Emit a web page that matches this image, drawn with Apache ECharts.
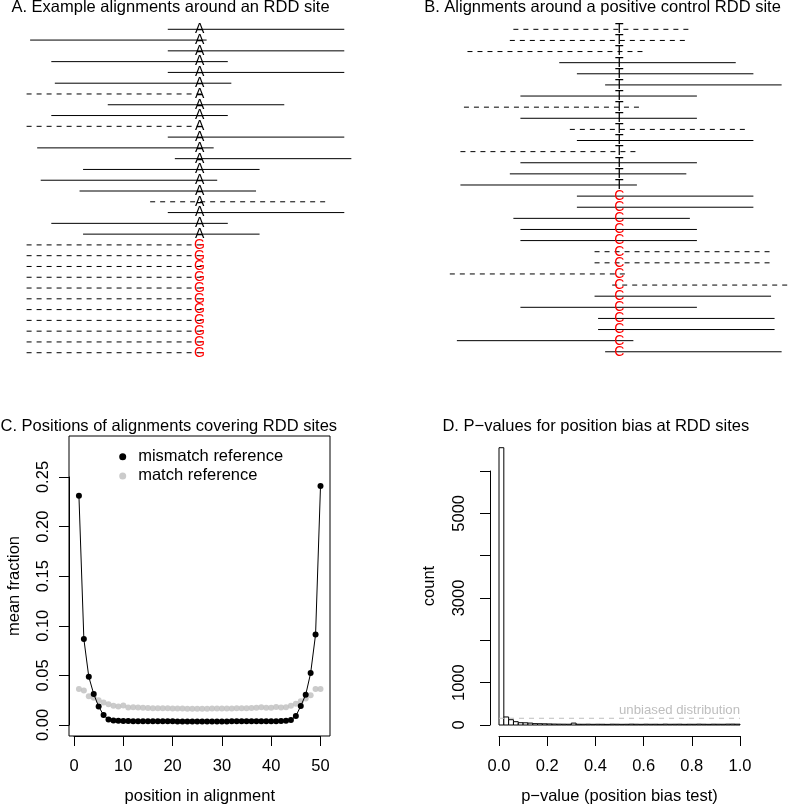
<!DOCTYPE html>
<html>
<head>
<meta charset="utf-8">
<script src="https://cdn.jsdelivr.net/npm/echarts@6/dist/echarts.min.js"></script>
<style>html,body{margin:0;padding:0;background:#fff}#c{width:789px;height:806px}</style>
</head>
<body>
<div id="c"></div>
<script>
// ---------------- data ----------------
const READ_LEN = 50;
// Panel A: read start offsets relative to the RDD site (bp), dashed flag, base at site
const readStartA = [-9,-48,-9,-42,-9,-41,-49,-26,-42,-49,-9,-46,-7,-33,-45,-34,-14,-9,-42,-33,-49,-49,-49,-49,-49,-49,-49,-49,-49,-49,-49];
const readDashedA = [0,0,0,0,0,0,1,0,0,1,0,0,0,0,0,0,1,0,0,0,1,1,1,1,1,1,1,1,1,1,1];
const baseA = ['A','A','A','A','A','A','A','A','A','A','A','A','A','A','A','A','A','A','A','A','G','G','G','G','G','G','G','G','G','G','G'];
const altBaseA = 'G';
// Panel B
const readStartB = [-30,-31,-43,-17,-12,-4,-28,-44,-28,-14,-12,-45,-28,-31,-45,-12,-12,-30,-28,-28,-7,-7,-48,-2,-7,-28,-6,-6,-46,-4];
const readDashedB = [1,1,1,0,0,0,0,1,0,1,0,1,0,0,0,0,0,0,0,0,1,1,1,1,0,0,0,0,0,0];
const baseB = ['T','T','T','T','T','T','T','T','T','T','T','T','T','T','T','C','C','C','C','C','C','C','C','C','C','C','C','C','C','C'];
const altBaseB = 'C';
// Panel C
const positions = [1,2,3,4,5,6,7,8,9,10,11,12,13,14,15,16,17,18,19,20,21,22,23,24,25,26,27,28,29,30,31,32,33,34,35,36,37,38,39,40,41,42,43,44,45,46,47,48,49,50];
const mismatchFrac = [0.2311,0.0866,0.0486,0.0312,0.0186,0.0100,0.0055,0.0045,0.0042,0.0041,
  0.0040,0.0039,0.0039,0.0038,0.0038,0.0038,0.0037,0.0037,0.0037,0.0037,
  0.0036,0.0036,0.0036,0.0036,0.0036,0.0036,0.0036,0.0036,0.0036,0.0036,
  0.0036,0.0037,0.0037,0.0037,0.0037,0.0037,0.0038,0.0038,0.0038,0.0039,
  0.0039,0.0040,0.0042,0.0050,0.0090,0.0192,0.0305,0.0523,0.0912,0.2409];
const matchFrac = [0.0362,0.0348,0.0290,0.0275,0.0250,0.0228,0.0210,0.0195,0.0187,0.0196,
  0.0177,0.0178,0.0176,0.0174,0.0172,0.0170,0.0170,0.0169,0.0168,0.0167,
  0.0166,0.0166,0.0165,0.0165,0.0165,0.0165,0.0165,0.0166,0.0166,0.0166,
  0.0167,0.0167,0.0168,0.0169,0.0170,0.0171,0.0175,0.0178,0.0175,0.0174,
  0.0182,0.0176,0.0180,0.0195,0.0215,0.0240,0.0268,0.0300,0.0362,0.0362];
// Panel D: histogram of p-values, 50 bins of width 0.02
const binWidth = 0.02;
const histCounts = [6550,190,125,78,54,52,45,32,30,28,
  25,22,20,19,18,45,18,17,19,16,
  18,17,15,19,18,16,17,20,18,16,
  19,17,18,16,20,17,18,19,16,18,
  17,20,18,16,19,18,17,20,21,19];
const yTicksD = [0,1000,2000,3000,4000,5000,6000];
const yLabelsD = ['0','1000','','3000','','5000',''];

// ---------------- styles / helpers ----------------
const FONT = '"Liberation Sans", Arial, Helvetica, sans-serif';
const FS = 16.5;
const SMALL = 13.2;
const BASE_FS = 14;
const GRAY = '#bebebe';
const RED = '#ff0000';
const DASH = [5, 5];

function readsData(starts, dashed) {
  return starts.map((s, i) => [s, s + READ_LEN, i + 1, dashed[i]]);
}
function basesData(bases) {
  return bases.map((b, i) => [0, i + 1]);
}
function renderRead(params, api) {
  const y = api.value(2);
  const p1 = api.coord([api.value(0), y]);
  const p2 = api.coord([api.value(1), y]);
  return {
    type: 'line',
    shape: {x1: p1[0], y1: p1[1], x2: p2[0], y2: p2[1]},
    style: {stroke: '#000', lineWidth: 1, lineDash: api.value(3) ? DASH : null, fill: null}
  };
}
function makeRenderBase(bases, alt) {
  return function (params, api) {
    const p = api.coord([api.value(0), api.value(1)]);
    const b = bases[params.dataIndex];
    return {
      type: 'text', x: p[0], y: p[1],
      style: {text: b, fill: b === alt ? RED : '#000', fontSize: BASE_FS, fontFamily: FONT,
              textAlign: 'center', textVerticalAlign: 'middle'}
    };
  };
}
const totalCount = histCounts.reduce((a, b) => a + b, 0);
const expectedPerBin = totalCount / histCounts.length;
const histData = histCounts.map((c, i) => [i * binWidth, (i + 1) * binWidth, c]);

const axisCommon = {
  axisLine: {show: true, onZero: false, lineStyle: {color: '#000', width: 1}},
  axisTick: {show: true, inside: false, length: 10, lineStyle: {color: '#000', width: 1}},
  splitLine: {show: false},
  nameTextStyle: {fontSize: FS, color: '#000', fontFamily: FONT},
};
function lbl(extra) {
  return Object.assign({fontSize: FS, color: '#000', fontFamily: FONT}, extra);
}
const titleStyle = {fontSize: FS, fontWeight: 'normal', color: '#000', fontFamily: FONT};

const option = {
  animation: false,
  backgroundColor: '#fff',
  title: [
    {text: 'A. Example alignments around an RDD site', left: 170.5, top: 7.5},
    {text: 'B. Alignments around a positive control RDD site', left: 602.5, top: 7.5},
    {text: 'C. Positions of alignments covering RDD sites', left: 168.8, top: 426},
    {text: 'D. P\u2212values for position bias at RDD sites', left: 595.8, top: 426}
  ].map(t => Object.assign({textAlign: 'center', textVerticalAlign: 'middle', padding: 0, textStyle: titleStyle}, t)),
  legend: {
    show: true, orient: 'vertical', left: 119.2, top: 447, padding: 0,
    itemWidth: 7, itemHeight: 7, itemGap: 0, selectedMode: false,
    textStyle: {fontSize: FS, color: '#000', fontFamily: FONT, lineHeight: 19.3, padding: [0, 0, 0, 7]},
    data: [{name: 'mismatch reference', icon: 'circle'}, {name: 'match reference', icon: 'circle'}]
  },
  grid: [
    {left: 16, top: 18.5, width: 353, height: 345, outerBoundsMode: 'none'},
    {left: 435.7, top: 18.2, width: 353, height: 344.7, outerBoundsMode: 'none'},
    {left: 74, top: 477, width: 246.5, height: 248, outerBoundsMode: 'none'},
    {left: 69, top: 436, width: 261, height: 300, show: true, borderColor: '#000', borderWidth: 1, backgroundColor: 'transparent', outerBoundsMode: 'none'},
    {left: 499, top: 471, width: 241, height: 254, outerBoundsMode: 'none'}
  ],
  xAxis: [
    {gridIndex: 0, type: 'value', min: -52, max: 48, show: false},
    {gridIndex: 1, type: 'value', min: -52, max: 48, show: false},
    Object.assign({}, axisCommon, {
      gridIndex: 2, type: 'value', min: 0, max: 50, interval: 10, offset: 11,
      axisLabel: lbl({margin: 22.4}),
      name: 'position in alignment', nameLocation: 'middle', nameGap: 51.75,
      nameTextStyle: {fontSize: FS, color: '#000', fontFamily: FONT, padding: [0, 0, 0, 5]}
    }),
    {gridIndex: 3, type: 'value', min: 0, max: 1, show: false},
    Object.assign({}, axisCommon, {
      gridIndex: 4, type: 'value', min: 0, max: 1, interval: 0.2, offset: 11,
      axisLabel: lbl({margin: 22.4, formatter: v => v.toFixed(1)}),
      name: 'p\u2212value (position bias test)', nameLocation: 'middle', nameGap: 51.75
    })
  ],
  yAxis: [
    {gridIndex: 0, type: 'value', min: 0, max: 32, inverse: true, show: false},
    {gridIndex: 1, type: 'value', min: 0, max: 31, inverse: true, show: false},
    Object.assign({}, axisCommon, {
      gridIndex: 2, type: 'value', min: 0, max: 0.25, interval: 0.05, offset: 5,
      axisLabel: lbl({rotate: 90, margin: 17.5, formatter: v => v.toFixed(2)}),
      name: 'mean fraction', nameLocation: 'middle', nameGap: 45.75,
      nameTextStyle: {fontSize: FS, color: '#000', fontFamily: FONT, padding: [0, 0, 0, 30]}
    }),
    {gridIndex: 3, type: 'value', min: 0, max: 1, show: false},
    Object.assign({}, axisCommon, {
      gridIndex: 4, type: 'value', min: 0, max: 6000, interval: 1000, offset: 9,
      axisLabel: lbl({rotate: 90, margin: 21.75, formatter: v => yLabelsD[yTicksD.indexOf(Math.round(v))] || ''}),
      name: 'count', nameLocation: 'middle', nameGap: 51.75,
      nameTextStyle: {fontSize: FS, color: '#000', fontFamily: FONT, padding: [0, 0, 0, 24]}
    })
  ],
  series: [
    {type: 'custom', name: 'readsA', xAxisIndex: 0, yAxisIndex: 0, coordinateSystem: 'cartesian2d',
     renderItem: renderRead, data: readsData(readStartA, readDashedA), encode: {x: [0, 1], y: 2}, silent: true, z: 1},
    {type: 'custom', name: 'basesA', xAxisIndex: 0, yAxisIndex: 0, coordinateSystem: 'cartesian2d',
     renderItem: makeRenderBase(baseA, altBaseA), data: basesData(baseA), encode: {x: 0, y: 1}, silent: true, z: 2},
    {type: 'custom', name: 'readsB', xAxisIndex: 1, yAxisIndex: 1, coordinateSystem: 'cartesian2d',
     renderItem: renderRead, data: readsData(readStartB, readDashedB), encode: {x: [0, 1], y: 2}, silent: true, z: 1},
    {type: 'custom', name: 'basesB', xAxisIndex: 1, yAxisIndex: 1, coordinateSystem: 'cartesian2d',
     renderItem: makeRenderBase(baseB, altBaseB), data: basesData(baseB), encode: {x: 0, y: 1}, silent: true, z: 2},
    {type: 'scatter', name: 'match reference', xAxisIndex: 2, yAxisIndex: 2,
     data: positions.map((p, i) => [p, matchFrac[i]]), symbol: 'circle', symbolSize: 6,
     itemStyle: {color: GRAY}, z: 2},
    {type: 'line', name: 'mismatch reference', xAxisIndex: 2, yAxisIndex: 2,
     data: positions.map((p, i) => [p, mismatchFrac[i]]), symbol: 'circle', symbolSize: 6, showAllSymbol: true,
     itemStyle: {color: '#000'}, lineStyle: {color: '#000', width: 1}, z: 3},
    {type: 'custom', name: 'histogram', xAxisIndex: 4, yAxisIndex: 4, coordinateSystem: 'cartesian2d', clip: false,
     data: histData, encode: {x: [0, 1], y: 2}, silent: true, z: 2,
     renderItem: function (params, api) {
       const p0 = api.coord([api.value(0), 0]);
       const p1 = api.coord([api.value(1), api.value(2)]);
       return {type: 'rect', shape: {x: p0[0], y: p1[1], width: p1[0] - p0[0], height: p0[1] - p1[1]},
               style: {fill: '#fff', stroke: '#000', lineWidth: 1}};
     }},
    {type: 'line', name: 'unbiased distribution', xAxisIndex: 4, yAxisIndex: 4,
     data: [[0, expectedPerBin], [1, expectedPerBin]], symbol: 'none', silent: true, z: 3,
     lineStyle: {color: GRAY, width: 1, type: DASH},
     endLabel: {show: true, formatter: 'unbiased distribution', color: GRAY, fontSize: SMALL, fontFamily: FONT,
                align: 'right', verticalAlign: 'bottom', distance: 0, offset: [0, -1]}}
  ]
};
const chart = echarts.init(document.getElementById('c'));
chart.setOption(option);
</script>
</body>
</html>
